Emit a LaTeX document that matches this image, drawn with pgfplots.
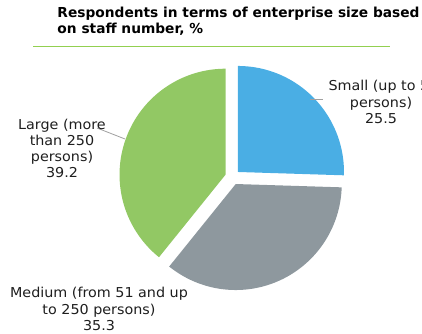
\documentclass[border=0pt]{standalone}
\usepackage{pgfplots}
\pgfplotsset{compat=1.18}
\usepackage{fontspec}
\setmainfont{DejaVu Sans}
\newfontfamily\lab[FakeStretch=1.05]{DejaVu Sans}
\definecolor{cS}{RGB}{74,174,228}
\definecolor{cM}{RGB}{142,152,158}
\definecolor{cL}{RGB}{146,200,100}
\definecolor{rule}{RGB}{146,208,80}
\definecolor{lead}{RGB}{160,160,160}
\definecolor{txt}{RGB}{30,30,30}
\tikzset{lbl/.style={anchor=base, text=txt, font=\lab\fontsize{13.7}{16}\selectfont, inner sep=0pt}}
% data (percent)
\def\vS{25.5}
\def\vM{35.3}
\def\vL{39.2}
\def\R{106}
\def\cx{232.6}
\def\cy{156.8}
\def\ex{7.5}
\pgfmathsetmacro\aS{90}
\pgfmathsetmacro\bS{90-3.6*\vS}
\pgfmathsetmacro\bM{\bS-3.6*\vM}
\pgfmathsetmacro\bL{\bM-3.6*\vL}
\pgfmathsetmacro\mS{(\aS+\bS)/2}
\pgfmathsetmacro\mM{(\bS+\bM)/2}
\pgfmathsetmacro\mL{(\bM+\bL)/2}
\pgfmathsetmacro\xS{\cx+\ex*cos(\mS)}
\pgfmathsetmacro\yS{\cy+\ex*sin(\mS)}
\pgfmathsetmacro\xM{\cx+\ex*cos(\mM)}
\pgfmathsetmacro\yM{\cy+\ex*sin(\mM)}
\pgfmathsetmacro\xL{\cx+\ex*cos(\mL)}
\pgfmathsetmacro\yL{\cy+\ex*sin(\mL)}
\begin{document}
\begin{tikzpicture}[x=1bp,y=1bp]
\path[use as bounding box, clip] (0,0) rectangle (422,334);
\begin{axis}[x=1bp,y=1bp,xmin=0,xmax=422,ymin=0,ymax=334,
  hide axis, clip=false, anchor=south west, at={(0,0)}, scale only axis]
\addplot[fill=cS, draw=none, domain=\bS:\aS, samples=90, variable=\t]
  ({\xS+\R*cos(\t)},{\yS+\R*sin(\t)}) -- (axis cs:\xS,\yS) -- cycle;
\addplot[fill=cM, draw=none, domain=\bM:\bS, samples=120, variable=\t]
  ({\xM+\R*cos(\t)},{\yM+\R*sin(\t)}) -- (axis cs:\xM,\yM) -- cycle;
\addplot[fill=cL, draw=none, domain=\bL:\bM, samples=120, variable=\t]
  ({\xL+\R*cos(\t)},{\yL+\R*sin(\t)}) -- (axis cs:\xL,\yL) -- cycle;
% leader lines
\draw[lead, line width=0.8bp] (axis cs:310,235) -- (axis cs:323,235);
\draw[lead, line width=0.8bp] (axis cs:97,206) -- (axis cs:125,195);
% labels
\node[lbl, anchor=base west] at (axis cs:328.3,243.3) {Small (up to 50};
\node[lbl] at (axis cs:381,227) {persons)};
\node[lbl] at (axis cs:381,210.7) {25.5};
\node[lbl] at (axis cs:62,205) {Large (more};
\node[lbl] at (axis cs:62,189) {than 250};
\node[lbl] at (axis cs:62,173) {persons)};
\node[lbl] at (axis cs:62,157) {39.2};
\node[lbl] at (axis cs:99,36.7) {Medium (from 51 and up};
\node[lbl] at (axis cs:99,20) {to 250 persons)};
\node[lbl] at (axis cs:99,4) {35.3};
% title
\node[anchor=base west, inner sep=0pt, font=\bfseries\fontsize{13.8}{16}\selectfont] at (axis cs:57.3,316.7) {Respondents in terms of enterprise size based};
\node[anchor=base west, inner sep=0pt, font=\bfseries\fontsize{13.8}{16}\selectfont] at (axis cs:57.3,300.7) {on staff number, \%};
\draw[rule, line width=1bp] (axis cs:33,287.3) -- (axis cs:390,287.3);
\end{axis}
\end{tikzpicture}
\end{document}
